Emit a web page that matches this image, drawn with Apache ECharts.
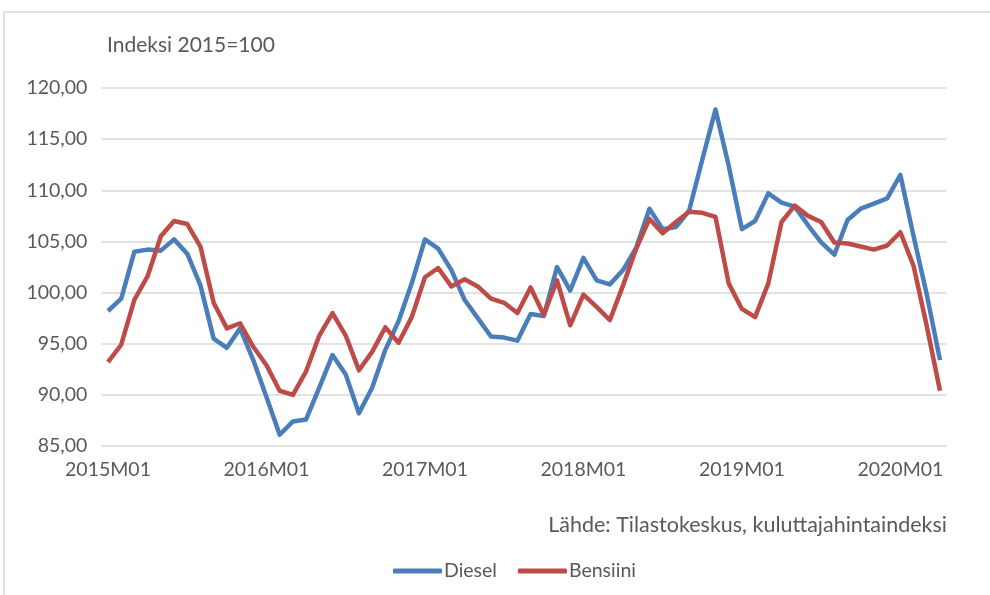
<!DOCTYPE html>
<html>
<head>
<meta charset="utf-8">
<script src="https://cdn.jsdelivr.net/npm/echarts@6/dist/echarts.min.js"></script>
<style>
  html, body { margin: 0; padding: 0; background: #fff; }
  #chart { width: 990px; height: 595px; }
</style>
</head>
<body>
<div id="chart"></div>
<script>
// 2015M01 .. 2020M04
const years = [2015, 2016, 2017, 2018, 2019, 2020];
const months = ['01', '02', '03', '04', '05', '06', '07', '08', '09', '10', '11', '12'];
const categories = [];
years.forEach(y => months.forEach(m => {
  if (y < 2020 || Number(m) <= 4) categories.push(y + 'M' + m);
}));

const diesel = [
  98.2, 99.4, 104.0, 104.2, 104.1, 105.2, 103.8, 100.7, 95.5, 94.6, 96.5, 93.4,
  89.8, 86.1, 87.4, 87.6, 90.7, 93.9, 92.0, 88.2, 90.7, 94.4, 97.2, 100.9,
  105.2, 104.3, 102.2, 99.3, 97.5, 95.7, 95.6, 95.3, 97.9, 97.7, 102.5, 100.2,
  103.4, 101.2, 100.8, 102.2, 104.4, 108.2, 106.2, 106.4, 108.0, 113.0, 117.9, 112.4,
  106.2, 107.0, 109.7, 108.8, 108.4, 106.6, 104.9, 103.7, 107.1, 108.2, 108.7, 109.2,
  111.5, 105.5, 99.8, 93.4
];

const bensiini = [
  93.2, 94.9, 99.3, 101.6, 105.5, 107.0, 106.7, 104.5, 99.0, 96.5, 97.0, 94.7,
  92.9, 90.4, 90.0, 92.3, 95.8, 98.0, 95.8, 92.4, 94.2, 96.6, 95.1, 97.6,
  101.5, 102.4, 100.6, 101.3, 100.6, 99.4, 99.0, 98.0, 100.5, 97.8, 101.2, 96.8,
  99.8, 98.6, 97.3, 100.7, 104.3, 107.2, 105.8, 106.9, 107.9, 107.8, 107.4, 100.9,
  98.4, 97.6, 100.9, 106.9, 108.5, 107.5, 106.9, 104.9, 104.8, 104.5, 104.2, 104.6,
  105.9, 102.6, 96.7, 90.4
];

const FONT = 'Lato, sans-serif';
const TEXT = '#595959';

const chart = echarts.init(document.getElementById('chart'), null, { renderer: 'canvas' });

chart.setOption({
  backgroundColor: '#fff',
  animation: false,
  graphic: [
    {
      type: 'rect',
      shape: { x: 4, y: 12, width: 1000, height: 600 },
      style: { fill: 'none', stroke: '#d9d9d9', lineWidth: 1.5 },
      silent: true,
    },
    {
      type: 'text',
      left: 107,
      top: 35,
      style: { text: 'Indeksi 2015=100', fill: TEXT, font: '21px ' + FONT },
    },
    {
      type: 'text',
      right: 43,
      top: 514,
      style: { text: 'Lähde: Tilastokeskus, kuluttajahintaindeksi', fill: TEXT, font: '21.5px ' + FONT },
    },
  ],
  legend: {
    data: ['Diesel', 'Bensiini'],
    left: 388,
    top: 556,
    icon: 'roundRect',
    itemWidth: 49,
    itemHeight: 5,
    itemGap: 21,
    textStyle: { color: TEXT, fontSize: 19.5, fontFamily: FONT, padding: [0, 0, 0, -3] },
  },
  grid: { left: 101.4, right: 43.4, top: 88, bottom: 149 },
  xAxis: {
    type: 'category',
    data: categories,
    boundaryGap: true,
    axisLine: { show: false },
    axisTick: { show: false },
    axisLabel: { interval: 11, color: TEXT, fontSize: 19.5, fontFamily: FONT, margin: 14 },
  },
  yAxis: {
    type: 'value',
    min: 85,
    max: 120,
    interval: 5,
    axisLine: { show: false },
    axisTick: { show: false },
    axisLabel: {
      color: TEXT, fontSize: 19.5, fontFamily: FONT, margin: 14,
      formatter: v => v.toFixed(2).replace('.', ','),
    },
    splitLine: { lineStyle: { color: '#d9d9d9', width: 1.5 } },
  },
  series: [
    {
      name: 'Diesel',
      type: 'line',
      data: diesel,
      symbol: 'none',
      itemStyle: { color: '#4a7ebb' },
      lineStyle: { color: '#4a7ebb', width: 4.5, join: 'round' },
    },
    {
      name: 'Bensiini',
      type: 'line',
      data: bensiini,
      symbol: 'none',
      itemStyle: { color: '#be4b48' },
      lineStyle: { color: '#be4b48', width: 4.5, join: 'round' },
    },
  ],
});
</script>
</body>
</html>
